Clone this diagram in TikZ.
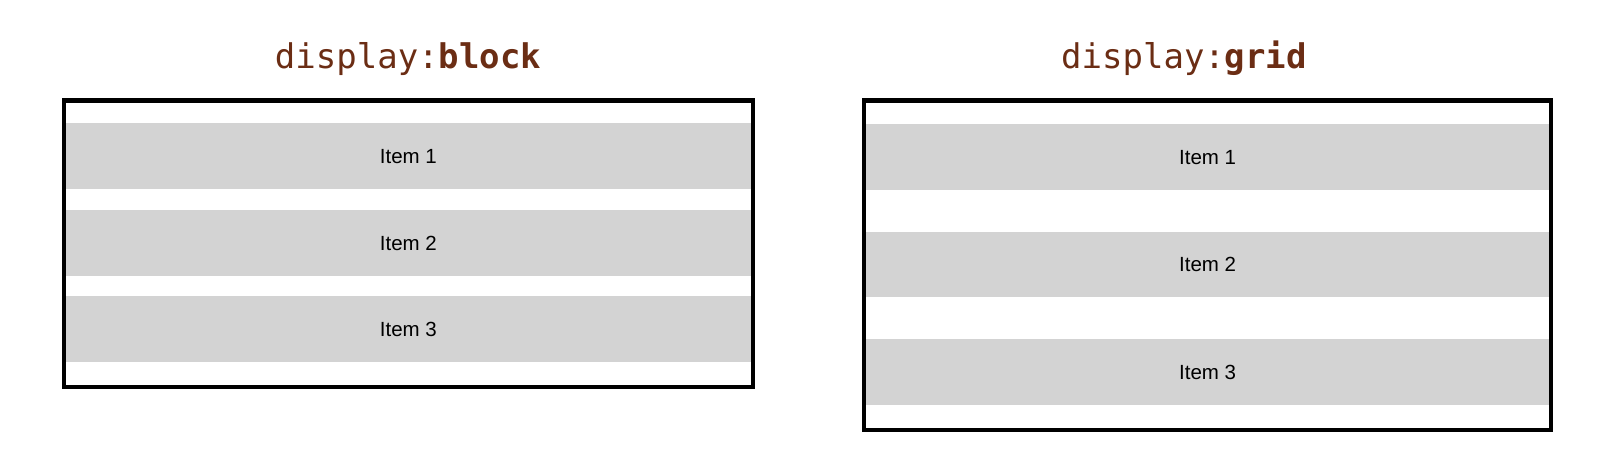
\documentclass[tikz,border=0pt]{standalone}
\usepackage{fontspec}
\setmainfont{Liberation Sans}
\newfontfamily\codefont{DejaVu Sans Mono}
\usepackage{tikz}
\usetikzlibrary{positioning}
\definecolor{titlecolor}{HTML}{6B2D14}
\definecolor{itemcolor}{HTML}{D3D3D3}

\begin{document}
\begin{tikzpicture}[
    x=1pt, y=-1pt,
    every node/.style={align=center},
    title/.style={anchor=base, text=titlecolor, inner sep=0pt,
                  font=\codefont\fontsize{34}{40}\selectfont},
    container/.style={draw=black, line width=4.3pt, inner sep=0pt},
    item/.style={fill=itemcolor, inner sep=0pt, minimum height=66pt,
                 font=\fontsize{20.5}{24}\selectfont}
]
    \useasboundingbox (0,0) rectangle (1600,450);

    % Left: block layout
    \node[title] (blocktitle) at (408, 68) {display:\textbf{block}};
    \node[container, minimum width=689pt, minimum height=286.5pt]
          (blockbox) at (408.5, 243.75) {};
    \node[item, minimum width=684.7pt] (bitem1) at (408.35, 156.3) {Item 1};
    \node[item, minimum width=684.7pt] (bitem2) at (408.35, 243.3) {Item 2};
    \node[item, minimum width=684.7pt] (bitem3) at (408.35, 329.3) {Item 3};

    % Right: grid layout
    \node[title] (gridtitle) at (1184, 68) {display:\textbf{grid}};
    \node[container, minimum width=687.3pt, minimum height=329.2pt]
          (gridbox) at (1207.65, 265.1) {};
    \node[item, minimum width=683.3pt, minimum height=65.7pt] (gitem1) at (1207.65, 157.2) {Item 1};
    \node[item, minimum width=683.3pt, minimum height=65.7pt] (gitem2) at (1207.65, 264.6) {Item 2};
    \node[item, minimum width=683.3pt, minimum height=65.7pt] (gitem3) at (1207.65, 372.1) {Item 3};
\end{tikzpicture}
\end{document}
